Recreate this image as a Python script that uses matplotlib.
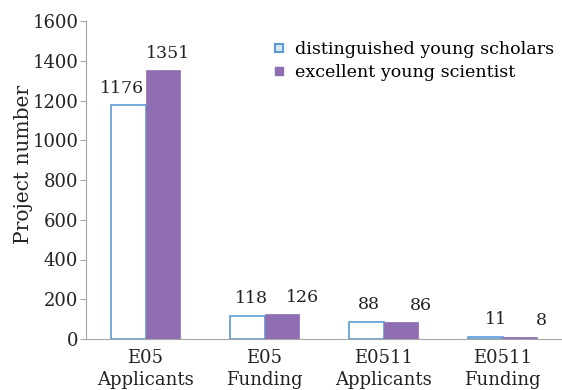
import numpy as np
import matplotlib.pyplot as plt
from matplotlib.lines import Line2D

plt.rcParams['font.family'] = ['DejaVu Serif']

categories = ['E05\nApplicants', 'E05\nFunding', 'E0511\nApplicants', 'E0511\nFunding']
distinguished = [1176, 118, 88, 11]
excellent = [1351, 126, 86, 8]
series_names = ['distinguished young scholars', 'excellent young scientist']

# label nudges (pixels) as placed in the original chart
nudge_d = [-6, 4, 3, 11]
nudge_e = [5, 21, 20, 22]

blue = '#5B9BD5'
purple = '#8E6DB0'
grey = '#A6A6A6'
txt = '#222222'

fig = plt.figure(figsize=(5.62, 3.9), dpi=100)
ax = fig.add_axes([86/562, 1-339/390, 476/562, 318/390])

x = np.arange(len(categories))
w = 0.29
b1 = ax.bar(x - w/2, distinguished, w, facecolor='white', edgecolor=blue, linewidth=1.2)
b2 = ax.bar(x + w/2, excellent, w, facecolor=purple, edgecolor=purple, linewidth=0.5)

for bars, vals, nudge in [(b1, distinguished, nudge_d), (b2, excellent, nudge_e)]:
    for r, v, n in zip(bars, vals, nudge):
        ax.annotate(str(v), (r.get_x() + r.get_width()/2, v), xytext=(n*0.72, 6),
                    textcoords='offset points', ha='center', va='bottom', fontsize=12.5, color=txt)

ax.set_xlim(-0.5, 3.5)
ax.set_ylim(0, 1600)
ax.set_yticks(np.arange(0, 1601, 200))
ax.set_xticks(x)
ax.set_xticklabels(categories, fontsize=13, linespacing=1.3)
ax.tick_params(axis='y', labelsize=13, length=4, color=grey, pad=1.5, labelcolor=txt)
ax.tick_params(axis='x', length=0, pad=7, labelcolor=txt)
ax.set_ylabel('Project number', fontsize=14.5, color=txt)
ax.yaxis.set_label_coords(-0.112, 0.55)

for s in ['top', 'right']:
    ax.spines[s].set_visible(False)
ax.spines['left'].set_color(grey)
ax.spines['bottom'].set_color(grey)

handles = [Line2D([], [], marker='s', linestyle='none', markersize=5.5,
                  markerfacecolor='#DCE9F5', markeredgecolor=blue, markeredgewidth=1.5),
           Line2D([], [], marker='s', linestyle='none', markersize=5.5,
                  markerfacecolor=purple, markeredgecolor=purple)]
fig.legend(handles, series_names, loc='upper left', bbox_to_anchor=(0.472, 0.912),
           frameon=False, fontsize=12.6, handlelength=0.8, handletextpad=0.5,
           labelspacing=0.35, borderaxespad=0)

fig.savefig('out.png', dpi=100)
